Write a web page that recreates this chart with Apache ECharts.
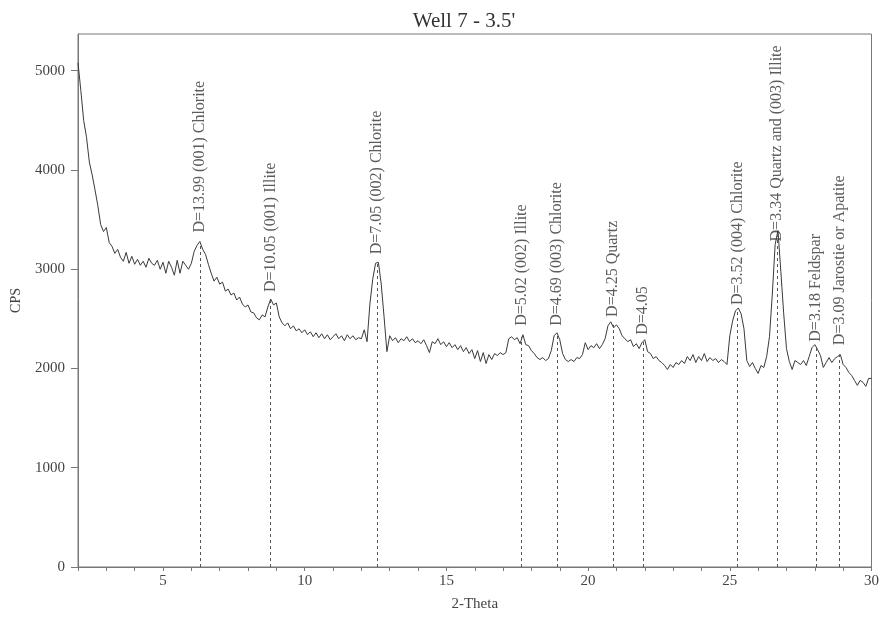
<!DOCTYPE html>
<html>
<head>
<meta charset="utf-8">
<script src="https://cdn.jsdelivr.net/npm/echarts@6/dist/echarts.min.js"></script>
<style>html,body{margin:0;padding:0;background:#fff;}#c{width:882px;height:617px;}</style>
</head>
<body>
<div id="c"></div>
<script>
// 2-Theta sampling grid (start and step of the scan)
const thetaStart = 2.0;
const thetaStep = 0.1;
// Intensity (CPS), one per 0.1 degree from 2.0 to 30.0
const cps = [
5080,4800,4500,4330,4080,3950,3800,3640,3450,3380,
3420,3270,3230,3160,3200,3120,3080,3170,3060,3130,
3050,3100,3040,3080,3020,3110,3060,3040,3090,3000,
3070,2960,3080,3020,2940,3090,2960,3080,3040,3000,
3060,3180,3240,3280,3200,3150,3050,2960,2880,2920,
2850,2870,2780,2800,2740,2760,2690,2720,2650,2620,
2640,2570,2560,2510,2490,2540,2520,2620,2700,2640,
2660,2520,2460,2430,2460,2400,2430,2380,2400,2360,
2390,2340,2370,2320,2360,2310,2350,2300,2340,2290,
2320,2350,2300,2330,2280,2340,2300,2330,2290,2310,
2300,2390,2270,2650,2900,3060,3070,2850,2520,2170,
2330,2280,2310,2260,2300,2280,2320,2270,2300,2260,
2280,2250,2290,2230,2160,2270,2250,2300,2240,2270,
2220,2260,2210,2240,2190,2230,2170,2210,2150,2190,
2100,2180,2070,2160,2050,2140,2090,2150,2130,2160,
2140,2160,2300,2320,2290,2310,2250,2340,2240,2230,
2180,2150,2110,2090,2110,2080,2100,2180,2330,2360,
2290,2150,2090,2070,2090,2070,2110,2100,2140,2260,
2190,2230,2210,2250,2200,2240,2300,2430,2470,2410,
2440,2400,2330,2300,2270,2290,2220,2250,2200,2260,
2290,2170,2150,2100,2120,2080,2060,2030,1990,2040,
2010,2060,2040,2080,2050,2120,2080,2140,2060,2120,
2080,2150,2070,2110,2080,2100,2060,2090,2070,2040,
2330,2480,2580,2610,2550,2400,2080,2020,2060,2000,
1950,2030,2010,2120,2320,2750,3250,3390,2980,2560,
2200,2070,1990,2080,2060,2040,2080,2030,2120,2210,
2240,2190,2130,2010,2060,2110,2060,2100,2120,2140,
2040,2010,1960,1930,1880,1830,1880,1860,1820,1900,
1900
];
// Peak annotations
const peakTheta = [6.31, 8.79, 12.55, 17.65, 18.91, 20.88, 21.93, 25.28, 26.67, 28.04, 28.87];
const peakTop = [3260, 2690, 3070, 2320, 2350, 2440, 2280, 2600, 3380, 2230, 2140];
const labelBase = [3370, 2770, 3150, 2430, 2430, 2520, 2340, 2640, 3280, 2270, 2235];
const peakLabels = [
  "D=13.99 (001) Chlorite",
  "D=10.05 (001) Illite",
  "D=7.05 (002) Chlorite",
  "D=5.02 (002) Illite",
  "D=4.69 (003) Chlorite",
  "D=4.25 Quartz",
  "D=4.05",
  "D=3.52 (004) Chlorite",
  "D=3.34 Quartz and (003) Illite",
  "D=3.18 Feldspar",
  "D=3.09 Jarostie or Apatite"
];
const xTicks = [2,3,4,5,6,7,8,9,10,11,12,13,14,15,16,17,18,19,20,21,22,23,24,25,26,27,28,29,30];
const xLabels = [5,10,15,20,25,30];
const yTicks = [0,1000,2000,3000,4000,5000];

const pattern = cps.map((v, i) => [+(thetaStart + i * thetaStep).toFixed(2), v]);
const font = '"Liberation Serif", "Times New Roman", serif';
const ink = '#3a3a3a';
const axisCol = '#777';

const chart = echarts.init(document.getElementById('c'), null, {renderer: 'canvas'});
chart.setOption({
  backgroundColor: '#fff',
  animation: false,
  title: {
    text: "Well 7 - 3.5'",
    left: 459, top: 6, textAlign: 'center',
    textStyle: {fontFamily: font, fontSize: 21, fontWeight: 'normal', color: '#333'}
  },
  grid: {left: 78, right: 7, top: 34, bottom: 48, show: true, borderColor: axisCol, borderWidth: 1, backgroundColor: 'transparent'},
  xAxis: {
    type: 'value', min: 2, max: 30, interval: 1,
    name: '2-Theta', nameLocation: 'middle', nameGap: 30,
    nameTextStyle: {fontFamily: font, fontSize: 15, color: '#444'},
    axisLine: {lineStyle: {color: axisCol}},
    axisTick: {show: true, length: 4, lineStyle: {color: axisCol}, customValues: xTicks},
    axisLabel: {fontFamily: font, fontSize: 15, color: '#444', margin: 7, customValues: xLabels},
    splitLine: {show: false}
  },
  yAxis: {
    type: 'value', min: 0, max: 5370, interval: 1000,
    name: 'CPS', nameLocation: 'middle', nameGap: 55,
    nameTextStyle: {fontFamily: font, fontSize: 14, color: '#444'},
    axisLine: {show: true, lineStyle: {color: axisCol}},
    axisTick: {show: true, length: 7, lineStyle: {color: axisCol}, customValues: yTicks},
    axisLabel: {fontFamily: font, fontSize: 15, color: '#444', margin: 13, customValues: yTicks,
      formatter: v => String(v)},
    splitLine: {show: false}
  },
  series: [
    {
      type: 'line', data: pattern, showSymbol: false, symbol: 'none',
      lineStyle: {color: ink, width: 1}, z: 3,
      markLine: {
        silent: true, symbol: 'none',
        lineStyle: {color: '#555', width: 1, type: [3, 3]},
        label: {show: false},
        data: peakTheta.map((t, i) => [{coord: [t, 0]}, {coord: [t, peakTop[i]]}])
      }
    },
    {
      type: 'scatter', symbolSize: 0, silent: true,
      data: peakTheta.map((t, i) => ({value: [t, labelBase[i]], name: peakLabels[i]})),
      label: {
        show: true, position: [0, 0], rotate: 90, align: 'left', verticalAlign: 'middle',
        formatter: p => p.name,
        fontFamily: font, fontSize: 16, color: '#333'
      }
    }
  ]
});
</script>
</body>
</html>
